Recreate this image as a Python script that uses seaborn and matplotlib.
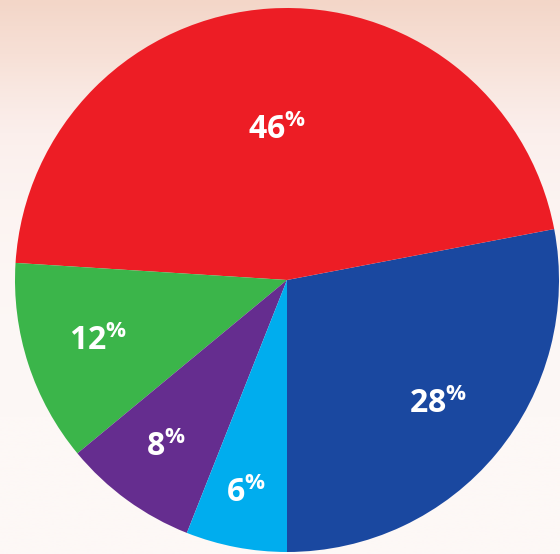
import numpy as np
import matplotlib
matplotlib.use("Agg")
import matplotlib.pyplot as plt
import matplotlib.colors as mcolors
import seaborn as sns

# ── Data ──────────────────────────────────────────────────────────────────────
labels = ["28", "46", "12", "8", "6"]
values = [28, 46, 12, 8, 6]
colours = ["#1a48a0", "#ed1d25", "#3bb54a", "#652d8f", "#00adee"]
label_r = [0.72, 0.55, 0.73, 0.76, 0.80]   # radial position of each label

sns.set_theme(style="white")
plt.rcParams["font.family"] = ["Open Sans", "DejaVu Sans"]
plt.rcParams["mathtext.fontset"] = "custom"
plt.rcParams["mathtext.bf"] = "Open Sans:bold"
plt.rcParams["mathtext.rm"] = "Open Sans:bold"

fig = plt.figure(figsize=(5.6, 5.54), dpi=100)

# -- soft blurred-photo style background
bg = fig.add_axes([0, 0, 1, 1])
cmap = mcolors.LinearSegmentedColormap.from_list(
    "bg", ["#fdf8f6", "#fbefec", "#f7e0d6", "#f3d6c8"])
grad = np.linspace(0, 1, 256)[:, None] ** 4
bg.imshow(grad, aspect="auto", cmap=cmap, origin="lower", extent=[0, 1, 0, 1])
bg.set_axis_off()

ax = fig.add_axes([0, 0, 1, 1])
ax.set_facecolor("none")
palette = sns.color_palette(colours)
wedges, _ = ax.pie(values, colors=palette, startangle=-90, counterclock=True,
                   radius=1.0, wedgeprops={"linewidth": 0})

for w, lab, r in zip(wedges, labels, label_r):
    mid = np.deg2rad((w.theta1 + w.theta2) / 2)
    ax.text(r * np.cos(mid), r * np.sin(mid), r"$\mathbf{" + lab + r"^{\%}}$",
            color="white", fontsize=23, ha="center", va="center")

ax.set_xlim(-287 / 272, 273 / 272)
ax.set_ylim(-274 / 272, 280 / 272)
ax.set_aspect("equal")
ax.set_axis_off()

plt.savefig("out.png", dpi=100)
plt.close()
